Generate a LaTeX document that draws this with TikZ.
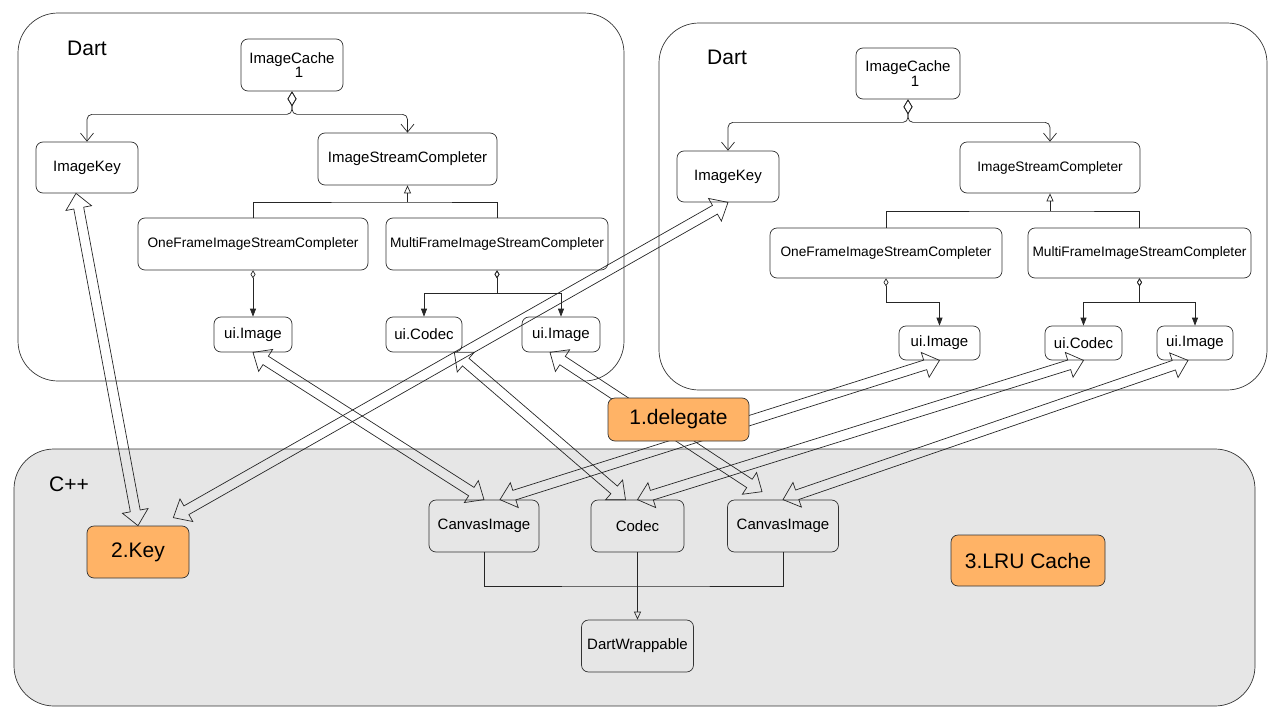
\documentclass[tikz,border=0pt]{standalone}
\usepackage{fontspec}
\setmainfont{Liberation Sans}
\usetikzlibrary{arrows.meta,calc}

\definecolor{hotfill}{HTML}{FFB366}
\definecolor{cppfill}{HTML}{E6E6E6}

\tikzset{
  box/.style={draw=black!80, line width=0.7pt, rounded corners=7pt, fill=white,
    inner sep=0pt, font=\fontsize{15}{12}\selectfont},
  small/.style={font=\fontsize{13.7}{15}\selectfont},
  cppbox/.style={box, fill=cppfill},
  hot/.style={box, fill=hotfill, font=\fontsize{21}{24}\selectfont},
  zone/.style={draw=black!80, line width=0.7pt, rounded corners=40pt},
  title/.style={font=\fontsize{21}{24}\selectfont},
  link/.style={draw=black!85, line width=0.7pt},
  aggr/.style={link, rounded corners=5pt,
    {Diamond[open,length=15pt,width=9pt]}-{Straight Barb[length=8pt,width=13pt]}},
  comp/.style={link, {Diamond[open,length=8pt,width=5pt]}-{Triangle[length=8pt,width=6pt]}},
  inh/.style={link, -{Triangle[open,length=8pt,width=7pt]}},
  fat/.style={draw=black!85, line width=0.7pt, line join=miter},
}

\newcommand{\dualarrow}[2]{%
  \path #1 coordinate (fa) #2 coordinate (fb);
  \path ($(fa)!15pt!(fb)$) coordinate (fa1) ($(fb)!15pt!(fa)$) coordinate (fb1);
  \draw[fat] (fa) -- ($(fa1)!13pt!90:(fb)$) -- ($(fa1)!5pt!90:(fb)$)
    -- ($(fb1)!5pt!-90:(fa)$) -- ($(fb1)!13pt!-90:(fa)$) -- (fb)
    -- ($(fb1)!13pt!90:(fa)$) -- ($(fb1)!5pt!90:(fa)$)
    -- ($(fa1)!5pt!-90:(fb)$) -- ($(fa1)!13pt!-90:(fb)$) -- cycle;
}

\begin{document}
\begin{tikzpicture}[x=1pt, y=-1pt]
  \useasboundingbox (0,0) rectangle (1280,720);

  % containers
  \draw[zone] (18,13) rectangle (624,381);
  \draw[zone] (659,23) rectangle (1267,390);
  \draw[zone, fill=cppfill] (14,449) rectangle (1255,706);
  \node[title] (dartL) at (87,48) {Dart};
  \node[title] (dartR) at (727,57) {Dart};
  \node[title] (cpp) at (69,484) {C++};

  % left Dart
  \node[box, minimum width=102pt, minimum height=52pt, align=center] (cacheL) at (292,65) {ImageCache\\\hspace*{14pt}1};
  \node[box, minimum width=102pt, minimum height=51pt] (keyL) at (87,167.5) {ImageKey};
  \node[box, minimum width=179pt, minimum height=52pt] (iscL) at (407.5,159) {ImageStreamCompleter};
  \node[box, small, minimum width=230pt, minimum height=52pt] (oneL) at (253,244) {OneFrameImageStreamCompleter};
  \node[box, small, minimum width=222pt, minimum height=52pt] (multiL) at (497,244) {MultiFrameImageStreamCompleter};
  \node[box, minimum width=78pt, minimum height=35pt] (imgL1) at (253,334.5) {ui.Image};
  \node[box, minimum width=76pt, minimum height=35pt] (codecL) at (424,334.5) {ui.Codec};
  \node[box, minimum width=78pt, minimum height=35pt] (imgL2) at (561,334.5) {ui.Image};

  \draw[aggr] (cacheL.south) -- ++(0,23) -| (keyL.north);
  \draw[aggr] (cacheL.south) -- ++(0,23) -| (iscL.north);
  \coordinate (barL) at (407.5,202);
  \draw[link] (oneL.north) |- (barL) -| (multiL.north);
  \draw[inh] (barL) -- (iscL.south);
  \draw[comp] (oneL.south) -- (imgL1.north);
  \draw[comp] (multiL.south) -- ++(0,23) -| (codecL.north);
  \draw[comp] (multiL.south) -- ++(0,23) -| (imgL2.north);

  % right Dart
  \node[box, minimum width=104pt, minimum height=51pt, align=center] (cacheR) at (908,73.5) {ImageCache\\\hspace*{14pt}1};
  \node[box, minimum width=102pt, minimum height=51pt] (keyR) at (728,176.5) {ImageKey};
  \node[box, small, minimum width=180pt, minimum height=51pt] (iscR) at (1050,167.5) {ImageStreamCompleter};
  \node[box, small, minimum width=232pt, minimum height=50pt] (oneR) at (886,253) {OneFrameImageStreamCompleter};
  \node[box, small, minimum width=223pt, minimum height=50pt] (multiR) at (1139.5,253) {MultiFrameImageStreamCompleter};
  \node[box, minimum width=81pt, minimum height=34pt] (imgR1) at (939.5,343) {ui.Image};
  \node[box, minimum width=77pt, minimum height=34pt] (codecR) at (1083.5,343) {ui.Codec};
  \node[box, minimum width=76pt, minimum height=34pt] (imgR3) at (1195,343) {ui.Image};

  \draw[aggr] (cacheR.south) -- ++(0,23) -| (keyR.north);
  \draw[aggr] (cacheR.south) -- ++(0,23) -| (iscR.north);
  \coordinate (barR) at (1050,211);
  \draw[link] (oneR.north) |- (barR) -| (multiR.north);
  \draw[inh] (barR) -- (iscR.south);
  \draw[comp] (oneR.south) -- ++(0,24) -| (imgR1.north);
  \draw[comp] (multiR.south) -- ++(0,24) -| (codecR.north);
  \draw[comp] (multiR.south) -- ++(0,24) -| (imgR3.north);

  % C++
  \node[hot, minimum width=102pt, minimum height=52pt] (key2) at (138,552) {2.Key};
  \node[cppbox, minimum width=110pt, minimum height=52pt] (canvasL) at (484,526) {CanvasImage};
  \node[cppbox, minimum width=93pt, minimum height=52pt] (codec) at (637.5,526) {Codec};
  \node[cppbox, minimum width=111pt, minimum height=52pt] (canvasR) at (783,526) {CanvasImage};
  \node[cppbox, minimum width=112pt, minimum height=52pt] (wrap) at (637.5,646) {DartWrappable};
  \node[hot, minimum width=154pt, minimum height=51pt] (lru) at (1028,560.5) {3.LRU Cache};

  \coordinate (joinC) at (637.5,586);
  \draw[link] (canvasL.south) |- (joinC) -| (canvasR.south);
  \draw[inh] (codec.south) -- (wrap.north);

  % bindings between Dart and C++
  \dualarrow{([xshift=-11pt]keyL.south)}{(key2.north)}
  \dualarrow{(keyR.south)}{([xshift=-16pt,yshift=8pt]key2.north east)}
  \dualarrow{(imgL1.south)}{(canvasL.north)}
  \dualarrow{([xshift=-8pt]codecL.south east)}{([xshift=-12pt]codec.north)}
  \dualarrow{([xshift=-11pt]imgL2.south)}{([xshift=-21pt,yshift=8pt]canvasR.north)}
  \dualarrow{(imgR1.south)}{([xshift=16pt]canvasL.north)}
  \dualarrow{(codecR.south)}{(codec.north)}
  \dualarrow{([xshift=-7pt]imgR3.south)}{(canvasR.north)}

  \node[hot, minimum width=141pt, minimum height=43pt] (deleg) at (678.5,419.5) {1.delegate};
\end{tikzpicture}
\end{document}
